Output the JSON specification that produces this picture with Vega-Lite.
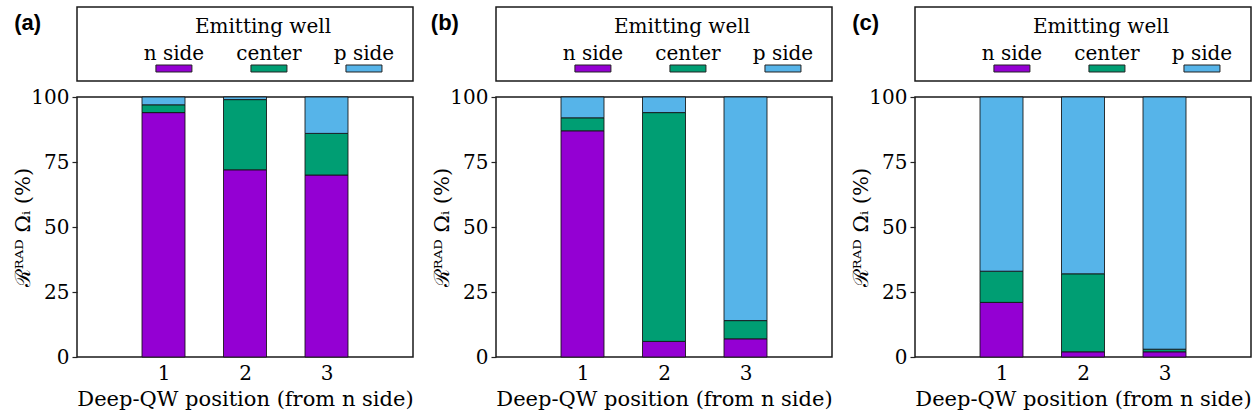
{
  "$schema": "https://vega.github.io/schema/vega-lite/v6.json",
  "padding": {"left": 12, "top": 6, "right": 5, "bottom": 5},
  "background": "white",
  "datasets": {
    "bars": [
      {"panel": "a", "pos": 1, "well": "n side", "i": 0, "val": 94},
      {"panel": "a", "pos": 1, "well": "center", "i": 1, "val": 3},
      {"panel": "a", "pos": 1, "well": "p side", "i": 2, "val": 3},
      {"panel": "a", "pos": 2, "well": "n side", "i": 0, "val": 72},
      {"panel": "a", "pos": 2, "well": "center", "i": 1, "val": 27},
      {"panel": "a", "pos": 2, "well": "p side", "i": 2, "val": 1},
      {"panel": "a", "pos": 3, "well": "n side", "i": 0, "val": 70},
      {"panel": "a", "pos": 3, "well": "center", "i": 1, "val": 16},
      {"panel": "a", "pos": 3, "well": "p side", "i": 2, "val": 14},
      {"panel": "b", "pos": 1, "well": "n side", "i": 0, "val": 87},
      {"panel": "b", "pos": 1, "well": "center", "i": 1, "val": 5},
      {"panel": "b", "pos": 1, "well": "p side", "i": 2, "val": 8},
      {"panel": "b", "pos": 2, "well": "n side", "i": 0, "val": 6},
      {"panel": "b", "pos": 2, "well": "center", "i": 1, "val": 88},
      {"panel": "b", "pos": 2, "well": "p side", "i": 2, "val": 6},
      {"panel": "b", "pos": 3, "well": "n side", "i": 0, "val": 7},
      {"panel": "b", "pos": 3, "well": "center", "i": 1, "val": 7},
      {"panel": "b", "pos": 3, "well": "p side", "i": 2, "val": 86},
      {"panel": "c", "pos": 1, "well": "n side", "i": 0, "val": 21},
      {"panel": "c", "pos": 1, "well": "center", "i": 1, "val": 12},
      {"panel": "c", "pos": 1, "well": "p side", "i": 2, "val": 67},
      {"panel": "c", "pos": 2, "well": "n side", "i": 0, "val": 2},
      {"panel": "c", "pos": 2, "well": "center", "i": 1, "val": 30},
      {"panel": "c", "pos": 2, "well": "p side", "i": 2, "val": 68},
      {"panel": "c", "pos": 3, "well": "n side", "i": 0, "val": 2},
      {"panel": "c", "pos": 3, "well": "center", "i": 1, "val": 1},
      {"panel": "c", "pos": 3, "well": "p side", "i": 2, "val": 97}
    ],
    "wells": [
      {"well": "n side", "i": 0},
      {"well": "center", "i": 1},
      {"well": "p side", "i": 2}
    ],
    "legtitle": [{"t": "Emitting well"}]
  },
  "bounds": "flush",
  "columns": 3,
  "spacing": {"column": 83, "row": 16},
  "concat": [
    {
      "width": 336, "height": 74,
      "title": {"text": "(a)", "orient": "left", "anchor": "end", "angle": 0, "align": "right", "baseline": "top", "font": "Liberation Sans", "fontSize": 22, "fontWeight": "bold", "color": "black", "offset": 9, "dy": 6},
      "layer": [
        {"data": {"name": "legtitle"}, "mark": {"type": "text", "fontSize": 20, "baseline": "alphabetic", "dx": 18, "dy": -11, "color": "black"}, "encoding": {"text": {"field": "t"}}},
        {"data": {"name": "wells"}, "mark": {"type": "text", "fontSize": 20, "baseline": "alphabetic", "dy": 16, "color": "black"},
         "encoding": {"x": {"field": "well", "type": "nominal", "scale": {"type": "band", "domain": ["n side", "center", "p side"], "paddingInner": 0, "paddingOuter": 0.268, "align": 0.97}, "axis": null}, "text": {"field": "well"}}},
        {"data": {"name": "wells"}, "mark": {"type": "point", "shape": "M-1,-0.194H1V0.194H-1Z", "size": 1296, "filled": true, "opacity": 1, "stroke": "#222", "strokeWidth": 1, "yOffset": 24.5},
         "encoding": {"x": {"field": "well", "type": "nominal", "scale": {"type": "band", "domain": ["n side", "center", "p side"], "paddingInner": 0, "paddingOuter": 0.268, "align": 0.97}, "axis": null},
                      "color": {"field": "well", "type": "nominal", "scale": {"domain": ["n side", "center", "p side"], "range": ["#9400D3", "#009E73", "#56B4E9"]}, "legend": null}}}
      ]
    },
    {
      "width": 336, "height": 74,
      "title": {"text": "(b)", "orient": "left", "anchor": "end", "angle": 0, "align": "right", "baseline": "top", "font": "Liberation Sans", "fontSize": 22, "fontWeight": "bold", "color": "black", "offset": 9, "dy": 6},
      "layer": [
        {"data": {"name": "legtitle"}, "mark": {"type": "text", "fontSize": 20, "baseline": "alphabetic", "dx": 18, "dy": -11, "color": "black"}, "encoding": {"text": {"field": "t"}}},
        {"data": {"name": "wells"}, "mark": {"type": "text", "fontSize": 20, "baseline": "alphabetic", "dy": 16, "color": "black"},
         "encoding": {"x": {"field": "well", "type": "nominal", "scale": {"type": "band", "domain": ["n side", "center", "p side"], "paddingInner": 0, "paddingOuter": 0.268, "align": 0.97}, "axis": null}, "text": {"field": "well"}}},
        {"data": {"name": "wells"}, "mark": {"type": "point", "shape": "M-1,-0.194H1V0.194H-1Z", "size": 1296, "filled": true, "opacity": 1, "stroke": "#222", "strokeWidth": 1, "yOffset": 24.5},
         "encoding": {"x": {"field": "well", "type": "nominal", "scale": {"type": "band", "domain": ["n side", "center", "p side"], "paddingInner": 0, "paddingOuter": 0.268, "align": 0.97}, "axis": null},
                      "color": {"field": "well", "type": "nominal", "scale": {"domain": ["n side", "center", "p side"], "range": ["#9400D3", "#009E73", "#56B4E9"]}, "legend": null}}}
      ]
    },
    {
      "width": 336, "height": 74,
      "title": {"text": "(c)", "orient": "left", "anchor": "end", "angle": 0, "align": "right", "baseline": "top", "font": "Liberation Sans", "fontSize": 22, "fontWeight": "bold", "color": "black", "offset": 9, "dy": 6},
      "layer": [
        {"data": {"name": "legtitle"}, "mark": {"type": "text", "fontSize": 20, "baseline": "alphabetic", "dx": 18, "dy": -11, "color": "black"}, "encoding": {"text": {"field": "t"}}},
        {"data": {"name": "wells"}, "mark": {"type": "text", "fontSize": 20, "baseline": "alphabetic", "dy": 16, "color": "black"},
         "encoding": {"x": {"field": "well", "type": "nominal", "scale": {"type": "band", "domain": ["n side", "center", "p side"], "paddingInner": 0, "paddingOuter": 0.268, "align": 0.97}, "axis": null}, "text": {"field": "well"}}},
        {"data": {"name": "wells"}, "mark": {"type": "point", "shape": "M-1,-0.194H1V0.194H-1Z", "size": 1296, "filled": true, "opacity": 1, "stroke": "#222", "strokeWidth": 1, "yOffset": 24.5},
         "encoding": {"x": {"field": "well", "type": "nominal", "scale": {"type": "band", "domain": ["n side", "center", "p side"], "paddingInner": 0, "paddingOuter": 0.268, "align": 0.97}, "axis": null},
                      "color": {"field": "well", "type": "nominal", "scale": {"domain": ["n side", "center", "p side"], "range": ["#9400D3", "#009E73", "#56B4E9"]}, "legend": null}}}
      ]
    },
    {
      "width": 336, "height": 260,
      "data": {"name": "bars"},
      "transform": [{"filter": "datum.panel == 'a'"}],
      "mark": {"type": "bar", "width": 43, "stroke": "#111", "strokeWidth": 1, "strokeOpacity": 0.85},
      "encoding": {
        "x": {"field": "pos", "type": "quantitative", "scale": {"domain": [0, 4], "nice": false, "zero": false}, "axis": {"values": [1, 2, 3], "format": "d", "title": "Deep-QW position (from n side)"}},
        "y": {"field": "val", "type": "quantitative", "stack": "zero", "scale": {"domain": [0, 100], "nice": false}, "axis": {"values": [0, 25, 50, 75, 100], "title": "ℛᴿᴬᴰ Ωᵢ (%)"}},
        "color": {"field": "well", "type": "nominal", "scale": {"domain": ["n side", "center", "p side"], "range": ["#9400D3", "#009E73", "#56B4E9"]}, "legend": null},
        "order": {"field": "i", "type": "quantitative"}
      }
    },
    {
      "width": 336, "height": 260,
      "data": {"name": "bars"},
      "transform": [{"filter": "datum.panel == 'b'"}],
      "mark": {"type": "bar", "width": 43, "stroke": "#111", "strokeWidth": 1, "strokeOpacity": 0.85},
      "encoding": {
        "x": {"field": "pos", "type": "quantitative", "scale": {"domain": [0, 4], "nice": false, "zero": false}, "axis": {"values": [1, 2, 3], "format": "d", "title": "Deep-QW position (from n side)"}},
        "y": {"field": "val", "type": "quantitative", "stack": "zero", "scale": {"domain": [0, 100], "nice": false}, "axis": {"values": [0, 25, 50, 75, 100], "title": "ℛᴿᴬᴰ Ωᵢ (%)"}},
        "color": {"field": "well", "type": "nominal", "scale": {"domain": ["n side", "center", "p side"], "range": ["#9400D3", "#009E73", "#56B4E9"]}, "legend": null},
        "order": {"field": "i", "type": "quantitative"}
      }
    },
    {
      "width": 336, "height": 260,
      "data": {"name": "bars"},
      "transform": [{"filter": "datum.panel == 'c'"}],
      "mark": {"type": "bar", "width": 43, "stroke": "#111", "strokeWidth": 1, "strokeOpacity": 0.85},
      "encoding": {
        "x": {"field": "pos", "type": "quantitative", "scale": {"domain": [0, 4], "nice": false, "zero": false}, "axis": {"values": [1, 2, 3], "format": "d", "title": "Deep-QW position (from n side)"}},
        "y": {"field": "val", "type": "quantitative", "stack": "zero", "scale": {"domain": [0, 100], "nice": false}, "axis": {"values": [0, 25, 50, 75, 100], "title": "ℛᴿᴬᴰ Ωᵢ (%)"}},
        "color": {"field": "well", "type": "nominal", "scale": {"domain": ["n side", "center", "p side"], "range": ["#9400D3", "#009E73", "#56B4E9"]}, "legend": null},
        "order": {"field": "i", "type": "quantitative"}
      }
    }
  ],
  "resolve": {"scale": {"x": "independent", "y": "independent"}},
  "config": {
    "font": "DejaVu Serif",
    "view": {"stroke": "#1a1a1a", "strokeWidth": 1.5},
    "axis": {
      "grid": false,
      "domain": false,
      "labelFont": "DejaVu Serif",
      "labelFontSize": 20,
      "labelColor": "black",
      "titleFont": "DejaVu Serif",
      "titleFontSize": 20,
      "titleFontWeight": "normal",
      "titleColor": "black",
      "tickColor": "#222",
      "tickWidth": 1.2
    },
    "axisX": {"ticks": false, "labelPadding": 6, "titlePadding": 5, "titleFontSize": 21, "labelAngle": 0},
    "axisY": {"tickSize": 5, "labelPadding": 3, "titlePadding": -3, "titleFontSize": 21}
  }
}
